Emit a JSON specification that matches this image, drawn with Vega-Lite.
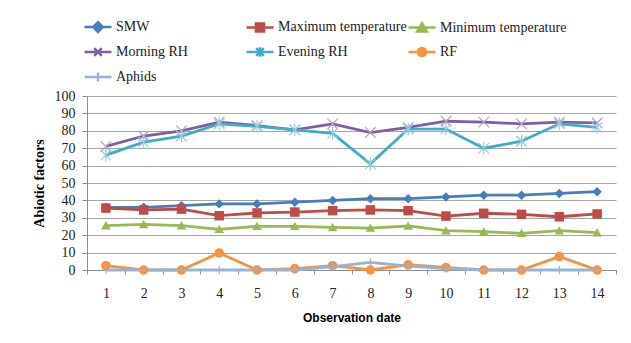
{
  "$schema": "https://vega.github.io/schema/vega-lite/v6.json",
  "autosize": {"type": "none"},
  "padding": {"left": 87, "top": 96, "right": 15, "bottom": 73},
  "width": 529,
  "height": 174,
  "background": "white",
  "config": {
    "view": {"stroke": null},
    "font": "'Liberation Serif', 'DejaVu Serif', serif"
  },
  "resolve": {"scale": {"shape": "independent"}, "legend": {"shape": "independent"}},
  "data": {
    "values": [
      {"date": 1, "series": "SMW", "value": 36}, {"date": 2, "series": "SMW", "value": 36}, {"date": 3, "series": "SMW", "value": 37}, {"date": 4, "series": "SMW", "value": 38}, {"date": 5, "series": "SMW", "value": 38}, {"date": 6, "series": "SMW", "value": 39}, {"date": 7, "series": "SMW", "value": 40}, {"date": 8, "series": "SMW", "value": 41}, {"date": 9, "series": "SMW", "value": 41}, {"date": 10, "series": "SMW", "value": 42}, {"date": 11, "series": "SMW", "value": 43}, {"date": 12, "series": "SMW", "value": 43}, {"date": 13, "series": "SMW", "value": 44}, {"date": 14, "series": "SMW", "value": 45},
      {"date": 1, "series": "Maximum temperature", "value": 35.6}, {"date": 2, "series": "Maximum temperature", "value": 34.5}, {"date": 3, "series": "Maximum temperature", "value": 35}, {"date": 4, "series": "Maximum temperature", "value": 31.2}, {"date": 5, "series": "Maximum temperature", "value": 32.8}, {"date": 6, "series": "Maximum temperature", "value": 33.3}, {"date": 7, "series": "Maximum temperature", "value": 34.1}, {"date": 8, "series": "Maximum temperature", "value": 34.5}, {"date": 9, "series": "Maximum temperature", "value": 34.1}, {"date": 10, "series": "Maximum temperature", "value": 31}, {"date": 11, "series": "Maximum temperature", "value": 32.6}, {"date": 12, "series": "Maximum temperature", "value": 32}, {"date": 13, "series": "Maximum temperature", "value": 30.6}, {"date": 14, "series": "Maximum temperature", "value": 32.2},
      {"date": 1, "series": "Minimum temperature", "value": 25.5}, {"date": 2, "series": "Minimum temperature", "value": 26.2}, {"date": 3, "series": "Minimum temperature", "value": 25.5}, {"date": 4, "series": "Minimum temperature", "value": 23.4}, {"date": 5, "series": "Minimum temperature", "value": 25.1}, {"date": 6, "series": "Minimum temperature", "value": 25.1}, {"date": 7, "series": "Minimum temperature", "value": 24.5}, {"date": 8, "series": "Minimum temperature", "value": 24.1}, {"date": 9, "series": "Minimum temperature", "value": 25.3}, {"date": 10, "series": "Minimum temperature", "value": 22.6}, {"date": 11, "series": "Minimum temperature", "value": 22}, {"date": 12, "series": "Minimum temperature", "value": 21.1}, {"date": 13, "series": "Minimum temperature", "value": 22.6}, {"date": 14, "series": "Minimum temperature", "value": 21.5},
      {"date": 1, "series": "Morning RH", "value": 71}, {"date": 2, "series": "Morning RH", "value": 77}, {"date": 3, "series": "Morning RH", "value": 80}, {"date": 4, "series": "Morning RH", "value": 85}, {"date": 5, "series": "Morning RH", "value": 83}, {"date": 6, "series": "Morning RH", "value": 80.5}, {"date": 7, "series": "Morning RH", "value": 84}, {"date": 8, "series": "Morning RH", "value": 79}, {"date": 9, "series": "Morning RH", "value": 82}, {"date": 10, "series": "Morning RH", "value": 85.5}, {"date": 11, "series": "Morning RH", "value": 85}, {"date": 12, "series": "Morning RH", "value": 84}, {"date": 13, "series": "Morning RH", "value": 85}, {"date": 14, "series": "Morning RH", "value": 84.5},
      {"date": 1, "series": "Evening RH", "value": 66}, {"date": 2, "series": "Evening RH", "value": 73.5}, {"date": 3, "series": "Evening RH", "value": 77}, {"date": 4, "series": "Evening RH", "value": 84}, {"date": 5, "series": "Evening RH", "value": 82.5}, {"date": 6, "series": "Evening RH", "value": 80.5}, {"date": 7, "series": "Evening RH", "value": 78.5}, {"date": 8, "series": "Evening RH", "value": 61}, {"date": 9, "series": "Evening RH", "value": 81}, {"date": 10, "series": "Evening RH", "value": 81}, {"date": 11, "series": "Evening RH", "value": 70}, {"date": 12, "series": "Evening RH", "value": 74}, {"date": 13, "series": "Evening RH", "value": 84}, {"date": 14, "series": "Evening RH", "value": 82},
      {"date": 1, "series": "RF", "value": 2.5}, {"date": 2, "series": "RF", "value": 0}, {"date": 3, "series": "RF", "value": 0}, {"date": 4, "series": "RF", "value": 9.8}, {"date": 5, "series": "RF", "value": 0}, {"date": 6, "series": "RF", "value": 0.8}, {"date": 7, "series": "RF", "value": 2.5}, {"date": 8, "series": "RF", "value": 0}, {"date": 9, "series": "RF", "value": 3}, {"date": 10, "series": "RF", "value": 1.5}, {"date": 11, "series": "RF", "value": 0}, {"date": 12, "series": "RF", "value": 0}, {"date": 13, "series": "RF", "value": 7.7}, {"date": 14, "series": "RF", "value": 0},
      {"date": 1, "series": "Aphids", "value": 0}, {"date": 2, "series": "Aphids", "value": 0}, {"date": 3, "series": "Aphids", "value": 0}, {"date": 4, "series": "Aphids", "value": 0}, {"date": 5, "series": "Aphids", "value": 0}, {"date": 6, "series": "Aphids", "value": 0}, {"date": 7, "series": "Aphids", "value": 2}, {"date": 8, "series": "Aphids", "value": 4.4}, {"date": 9, "series": "Aphids", "value": 2.2}, {"date": 10, "series": "Aphids", "value": 0.8}, {"date": 11, "series": "Aphids", "value": 0}, {"date": 12, "series": "Aphids", "value": 0}, {"date": 13, "series": "Aphids", "value": 0}, {"date": 14, "series": "Aphids", "value": 0}
    ]
  },
  "encoding": {
    "x": {
      "field": "date", "type": "ordinal",
      "scale": {"type": "band", "paddingInner": 0, "paddingOuter": 0},
      "axis": {
        "title": "Observation date",
        "titleFont": "'Liberation Sans', Arial, sans-serif", "titleFontWeight": "bold", "titleFontSize": 12, "titleColor": "#000000", "titlePadding": 12,
        "labelFont": "'Liberation Serif', 'DejaVu Serif', serif", "labelFontSize": 14, "labelColor": "#222222", "labelAngle": 0, "labelPadding": 12,
        "tickBand": "extent", "tickSize": 4, "tickColor": "#8c8c8c", "domainColor": "#8c8c8c", "grid": false
      }
    },
    "y": {
      "field": "value", "type": "quantitative",
      "scale": {"domain": [0, 100], "nice": false},
      "axis": {
        "title": "Abiotic factors",
        "titleFont": "'Liberation Serif', 'DejaVu Serif', serif", "titleFontWeight": "bold", "titleFontSize": 14, "titleColor": "#000000", "titlePadding": 8,
        "labelFont": "'Liberation Serif', 'DejaVu Serif', serif", "labelFontSize": 14, "labelColor": "#222222", "labelPadding": 7,
        "values": [0, 10, 20, 30, 40, 50, 60, 70, 80, 90, 100],
        "tickSize": 5, "tickColor": "#8c8c8c", "domainColor": "#8c8c8c",
        "grid": true, "gridColor": "#a6a6a6", "gridWidth": 1
      }
    }
  },
  "layer": [
    {
      "mark": {"type": "line", "strokeWidth": 2.8},
      "encoding": {
        "color": {
          "field": "series", "type": "nominal",
          "scale": {
            "domain": ["SMW", "Maximum temperature", "Minimum temperature", "Morning RH", "Evening RH", "RF", "Aphids"],
            "range": ["#4a7ebb", "#be4b48", "#98b954", "#7d60a0", "#46aac5", "#f69240", "#95b3d7"]
          },
          "legend": {
            "title": null,
            "orient": "none",
            "legendX": -4,
            "legendY": -84,
            "direction": "horizontal",
            "columns": 3,
            "gridAlign": "all",
            "columnPadding": -6,
            "rowPadding": -8,
            "symbolSize": 729,
            "symbolStrokeWidth": 2.5,
            "labelFont": "'Liberation Serif', 'DejaVu Serif', serif",
            "labelFontSize": 14,
            "labelColor": "#222222",
            "labelOffset": 3,
            "labelLimit": 300,
            "encode": {
              "symbols": {
                "update": {
                  "shape": {"signal": "datum.value === 'SMW' ? 'M-1,0H1M0,-0.36L0.36,0L0,0.36L-0.36,0Z' : datum.value === 'Maximum temperature' ? 'M-1,0H1M-0.3,-0.3H0.3V0.3H-0.3Z' : datum.value === 'Minimum temperature' ? 'M-1,0H1M0,-0.33L0.36,0.28H-0.36Z' : datum.value === 'Morning RH' ? 'M-1,0H1M-0.28,-0.28L0.28,0.28M-0.28,0.28L0.28,-0.28' : datum.value === 'Evening RH' ? 'M-1,0H1M-0.28,-0.28L0.28,0.28M-0.28,0.28L0.28,-0.28M0,-0.36V0.36' : datum.value === 'RF' ? 'M-1,0H1M0.3,0A0.3,0.3,0,1,1,-0.3,0A0.3,0.3,0,1,1,0.3,0Z' : 'M-1,0H1M0,-0.33V0.33'"},
                  "fill": {"scale": "color", "field": "value"},
                  "stroke": {"scale": "color", "field": "value"},
                  "strokeWidth": {"value": 2.5},
                  "opacity": {"value": 1},
                  "fillOpacity": {"value": 1}
                }
              }
            }
          }
        }
      }
    },
    {
      "transform": [{"filter": "indexof(['SMW','Maximum temperature','Minimum temperature','RF'], datum.series) >= 0"}],
      "mark": {"type": "point", "filled": true, "opacity": 1, "size": 90},
      "encoding": {
        "color": {"field": "series", "type": "nominal", "legend": null},
        "shape": {
          "field": "series", "type": "nominal", "legend": null,
          "scale": {
            "domain": ["SMW", "Maximum temperature", "Minimum temperature", "RF"],
            "range": ["M0,-1L1,0L0,1L-1,0Z", "square", "M0,-0.95L1,0.8H-1Z", "circle"]
          }
        }
      }
    },
    {
      "transform": [{"filter": "indexof(['Morning RH','Evening RH','Aphids'], datum.series) >= 0"}],
      "mark": {"type": "point", "filled": false, "opacity": 1, "size": 110, "strokeWidth": 1.2},
      "encoding": {
        "stroke": {
          "field": "series", "type": "nominal", "legend": null,
          "scale": {
            "domain": ["Morning RH", "Evening RH", "Aphids"],
            "range": ["#b3a2c7", "#93cddd", "#95b3d7"]
          }
        },
        "shape": {
          "field": "series", "type": "nominal", "legend": null,
          "scale": {
            "domain": ["Morning RH", "Evening RH", "Aphids"],
            "range": ["M-1,-1L1,1M-1,1L1,-1", "M-1,-1L1,1M-1,1L1,-1M0,-1.2V1.2", "M-0.8,0H0.8M0,-0.8V0.8"]
          }
        }
      }
    }
  ]
}
